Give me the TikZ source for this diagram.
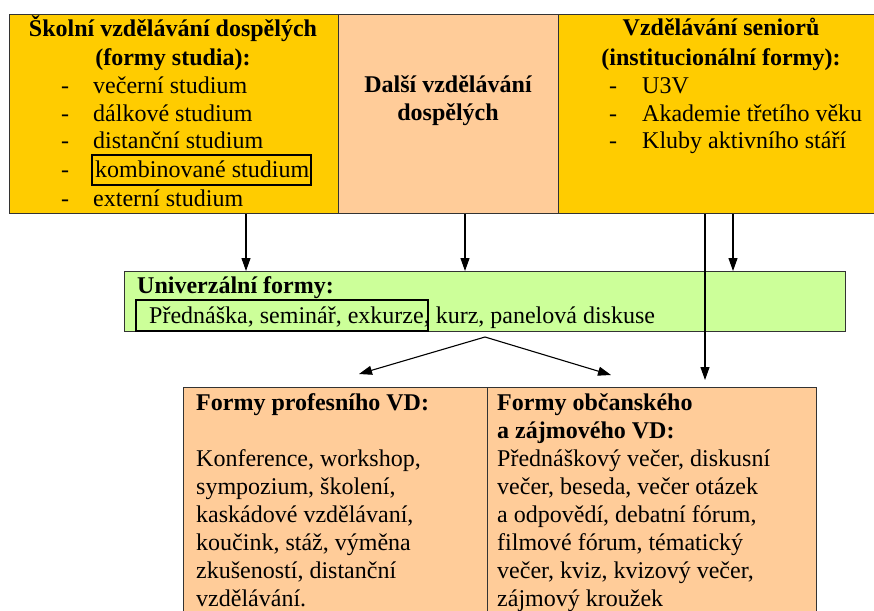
\documentclass[tikz,border=0pt]{standalone}
\usepackage{fontspec}
\setmainfont{Liberation Serif}
\usetikzlibrary{arrows.meta}
\definecolor{gold}{HTML}{FFCC00}
\definecolor{peach}{HTML}{FFCC99}
\definecolor{lime}{HTML}{CCFF99}
\definecolor{edge}{HTML}{333333}
\begin{document}
\begin{tikzpicture}[x=1pt,y=-1pt,
  box/.style={draw=edge,line width=1.2pt,anchor=north west,inner sep=0pt},
  txt/.style={font=\fontsize{24}{27.6}\selectfont,inner sep=0pt,anchor=base west},
  ttl/.style={font=\fontsize{24}{27.6}\selectfont\bfseries,inner sep=0pt,anchor=base west},
  ctl/.style={font=\fontsize{24}{27.6}\selectfont\bfseries,inner sep=0pt,anchor=base},
  dsh/.style={font=\fontsize{24}{27.6}\selectfont,inner sep=0pt,anchor=base},
  arr/.style={-{Triangle[length=13pt,width=9pt]},line width=1.1pt},
  frame/.style={draw=black,line width=1.1pt}
]
\useasboundingbox (0,0) rectangle (874,610);
\clip (0,0) rectangle (874,610);
% boxes
\node[box,fill=gold,minimum width=329pt,minimum height=199pt] (A) at (9,14) {};
\node[box,fill=peach,minimum width=220pt,minimum height=199pt] (M) at (338,14) {};
\node[box,fill=gold,minimum width=330pt,minimum height=199pt] (R) at (558,14) {};
\node[box,fill=lime,minimum width=721pt,minimum height=60pt] (G) at (124,271) {};
\node[box,fill=peach,minimum width=304pt,minimum height=240pt] (P) at (183,387) {};
\node[box,fill=peach,minimum width=329pt,minimum height=240pt] (O) at (487,387) {};
% top left
\node[ctl] (a1) at (173,37) {Školní vzdělávání dospělých};
\node[ctl] (a2) at (173,65) {(formy studia):};
\node[dsh] (ad1) at (65,93) {-};
\node[dsh] (ad2) at (65,121) {-};
\node[dsh] (ad3) at (65,148) {-};
\node[dsh] (ad4) at (65,177) {-};
\node[dsh] (ad5) at (65,206) {-};
\node[txt] (ai1) at (93,93) {večerní studium};
\node[txt] (ai2) at (93,121) {dálkové studium};
\node[txt] (ai3) at (93,148) {distanční studium};
\node[txt] (ai4) at (95,177) {kombinované studium};
\node[txt] (ai5) at (93,206) {externí studium};
\draw[frame] (92,155) rectangle (311,185);
% middle
\node[ctl] (m1) at (448,92) {Další vzdělávání};
\node[ctl] (m2) at (448,120) {dospělých};
% top right
\node[ctl] (r1) at (721,36) {Vzdělávání seniorů};
\node[ctl] (r2) at (721,65) {(institucionální formy):};
\node[dsh] (rd1) at (613,93) {-};
\node[dsh] (rd2) at (613,121) {-};
\node[dsh] (rd3) at (613,148) {-};
\node[txt] (ri1) at (642,93) {U3V};
\node[txt] (ri2) at (642,121) {Akademie třetího věku};
\node[txt] (ri3) at (642,148) {Kluby aktivního stáří};
% green
\node[ttl] (g1) at (137,293) {Univerzální formy:};
\node[txt] (g2) at (149,323) {Přednáška, seminář, exkurze, kurz, panelová diskuse};
\draw[frame] (136,300) rectangle (428,331);
% bottom left
\node[ttl] (p0) at (196,410.5) {Formy profesního VD:};
\node[txt] (p1) at (196,466.5) {Konference, workshop,};
\node[txt] (p2) at (196,494.5) {sympozium, školení,};
\node[txt] (p3) at (196,522.5) {kaskádové vzdělávaní,};
\node[txt] (p4) at (196,550.5) {koučink, stáž, výměna};
\node[txt] (p5) at (196,578.5) {zkušeností, distanční};
\node[txt] (p6) at (196,606.5) {vzdělávání.};
% bottom right
\node[ttl] (o1) at (497,410.5) {Formy občanského};
\node[ttl] (o2) at (497,438.5) {a zájmového VD:};
\node[txt] (o3) at (497,466.5) {Přednáškový večer, diskusní};
\node[txt] (o4) at (497,494.5) {večer, beseda, večer otázek};
\node[txt] (o5) at (497,522.5) {a odpovědí, debatní fórum,};
\node[txt] (o6) at (497,550.5) {filmové fórum, tématický};
\node[txt] (o7) at (497,578.5) {večer, kviz, kvizový večer,};
\node[txt] (o8) at (497,606.5) {zájmový kroužek};
% connectors
\coordinate (x1) at (246,0);
\coordinate (x2) at (465,0);
\coordinate (x3) at (733,0);
\coordinate (x4) at (705,0);
\coordinate (apex) at (485,337);
\coordinate (tl) at (359,374);
\coordinate (tr) at (611,375);
\draw[arr] (A.south -| x1) -- (G.north -| x1);
\draw[arr] (M.south -| x2) -- (G.north -| x2);
\draw[arr] (R.south -| x3) -- (G.north -| x3);
\draw[arr,shorten >=7pt] (R.south -| x4) -- (O.north -| x4);
\draw[arr] (apex) -- (tl);
\draw[arr] (apex) -- (tr);
\end{tikzpicture}
\end{document}
